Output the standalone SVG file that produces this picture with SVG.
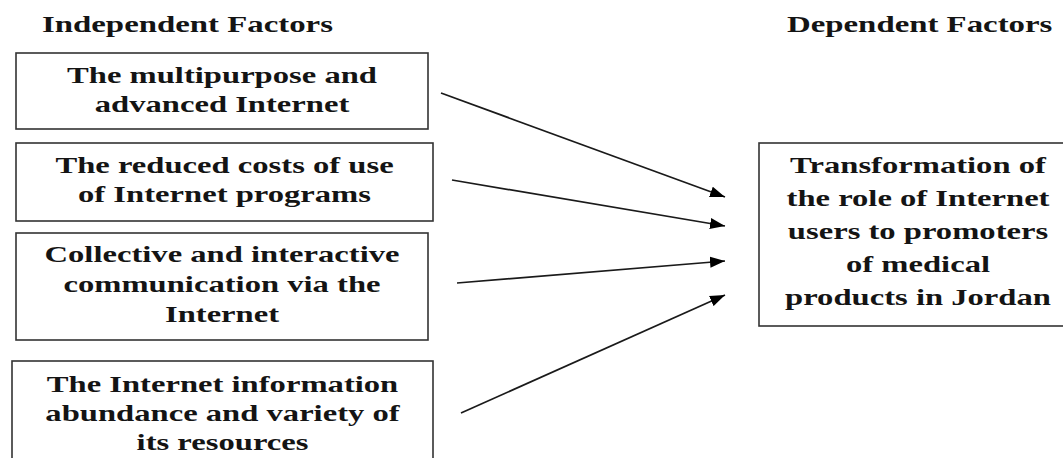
<svg xmlns="http://www.w3.org/2000/svg" width="1063" height="458" viewBox="0 0 1063 458">
  <style>
    .box { fill: #ffffff; stroke: #333333; stroke-width: 1.6; }
    .t { font-family: "Liberation Serif", "Times New Roman", serif; font-weight: bold; font-size: 22.5px; fill: #141414; text-anchor: middle; }
    .h { font-family: "Liberation Serif", "Times New Roman", serif; font-weight: bold; font-size: 22.5px; fill: #141414; text-anchor: start; }
    .conn { stroke: #1a1a1a; stroke-width: 1.7; fill: none; marker-end: url(#arrow); }
  </style>
  <defs>
    <marker id="arrow" markerUnits="userSpaceOnUse" markerWidth="16" markerHeight="12" refX="15" refY="6" orient="auto">
      <path d="M0,0.5 L15,6 L0,11.5 z" fill="#000000"/>
    </marker>
  </defs>
  <rect width="1063" height="458" fill="#ffffff"/>

  <g id="title-independent">
    <text class="h" transform="translate(42,32) scale(1.46,1)">Independent Factors</text>
  </g>
  <g id="title-dependent">
    <text class="h" transform="translate(787,32) scale(1.46,1)">Dependent Factors</text>
  </g>

  <g id="node-multipurpose">
    <rect class="box" x="16" y="53" width="412" height="76"/>
    <text class="t" transform="translate(222,83) scale(1.45,1)"><tspan x="0" y="0">The multipurpose and</tspan><tspan x="0" y="29">advanced Internet</tspan></text>
  </g>

  <g id="node-reduced-costs">
    <rect class="box" x="16" y="143" width="417" height="78"/>
    <text class="t" transform="translate(224.5,173) scale(1.45,1)"><tspan x="0" y="0">The reduced costs of use</tspan><tspan x="0" y="29">of Internet programs</tspan></text>
  </g>

  <g id="node-collective">
    <rect class="box" x="16" y="233" width="412" height="107"/>
    <text class="t" transform="translate(222,262) scale(1.45,1)"><tspan x="0" y="0">Collective and interactive</tspan><tspan x="0" y="30">communication via the</tspan><tspan x="0" y="60">Internet</tspan></text>
  </g>

  <g id="node-abundance">
    <rect class="box" x="12" y="361" width="421" height="110"/>
    <text class="t" transform="translate(222.5,392) scale(1.45,1)"><tspan x="0" y="0">The Internet information</tspan><tspan x="0" y="29">abundance and variety of</tspan><tspan x="0" y="58">its resources</tspan></text>
  </g>

  <g id="node-transformation">
    <rect class="box" x="759" y="143" width="320" height="183"/>
    <text class="t" transform="translate(918,173) scale(1.45,1)"><tspan x="0" y="0">Transformation of</tspan><tspan x="0" y="33">the role of Internet</tspan><tspan x="0" y="66">users to promoters</tspan><tspan x="0" y="99">of medical</tspan><tspan x="0" y="132">products in Jordan</tspan></text>
  </g>

  <g id="connectors">
    <line class="conn" x1="441" y1="93" x2="725" y2="197"/>
    <line class="conn" x1="452" y1="180" x2="725" y2="226"/>
    <line class="conn" x1="457" y1="283" x2="725" y2="261"/>
    <line class="conn" x1="461" y1="413" x2="725" y2="295"/>
  </g>
</svg>
